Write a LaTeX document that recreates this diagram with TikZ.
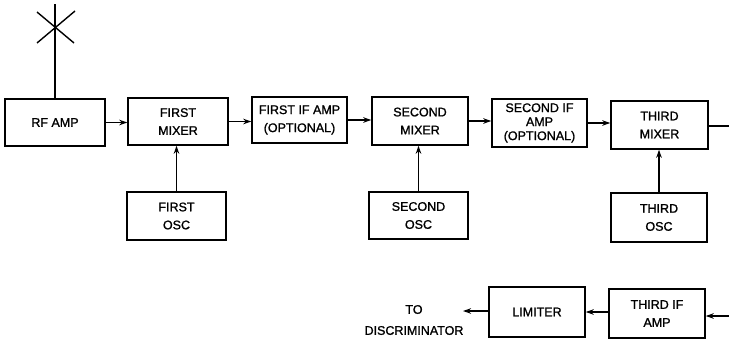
\documentclass[tikz,border=0pt]{standalone}
\usepackage{fontspec}
\setmainfont{Liberation Sans}[FakeBold=1]
\newfontfamily\medfont{Liberation Sans}[RawFeature={embolden=1.2}]
\usetikzlibrary{arrows.meta}
\begin{document}
\begin{tikzpicture}[x=1pt,y=-1pt,
  blk/.style={draw,line width=1.5pt,inner sep=0pt,align=center,
    font=\medfont\fontsize{12.5}{18}\selectfont},
  wire/.style={line width=1.4pt},
  arr/.style={line width=1.4pt,-{Stealth[length=8pt,width=5.5pt]}}]
\useasboundingbox (0,0) rectangle (729,340);
% top row
\node[blk,minimum width=100pt,minimum height=47pt] (rf) at (55,122.5) {RF AMP};
\node[blk,minimum width=100pt,minimum height=47pt] (m1) at (178,121.5) {FIRST\\MIXER};
\node[blk,minimum width=95pt,minimum height=46pt] (if1) at (299.5,120) {FIRST IF AMP\\(OPTIONAL)};
\node[blk,minimum width=96pt,minimum height=48pt] (m2) at (420,121) {SECOND\\MIXER};
\node[blk,minimum width=95pt,minimum height=48pt,font=\medfont\fontsize{12.5}{14}\selectfont] (if2) at (539.5,123) {SECOND IF\\AMP\\(OPTIONAL)};
\node[blk,minimum width=97pt,minimum height=48pt] (m3) at (659.5,125) {THIRD\\MIXER};
% oscillators
\node[blk,minimum width=99pt,minimum height=48pt] (o1) at (176.5,216) {FIRST\\OSC};
\node[blk,minimum width=99pt,minimum height=47pt] (o2) at (418.5,215.5) {SECOND\\OSC};
\node[blk,minimum width=96pt,minimum height=49pt] (o3) at (659,217.5) {THIRD\\OSC};
% bottom row
\node[blk,minimum width=96pt,minimum height=50pt] (lim) at (537,312) {LIMITER};
\node[blk,minimum width=96pt,minimum height=49pt] (if3) at (657,313.5) {THIRD IF\\AMP};
\node[align=center,inner sep=0pt,font=\medfont\fontsize{12.5}{21}\selectfont] (disc) at (414,320) {TO\\DISCRIMINATOR};
% antenna
\coordinate (top) at (55,4);
\coordinate (xa) at (37,12);
\coordinate (xb) at (74,43);
\coordinate (xc) at (75,11);
\coordinate (xd) at (37,43);
\draw[wire] (top) -- (rf.north);
\draw[wire] (xa) -- (xb);
\draw[wire] (xc) -- (xd);
% signal chain
\draw[arr] (rf.east) -- (rf.east -| m1.west);
\draw[arr] (m1.east) -- (m1.east -| if1.west);
\draw[arr] (if1.east) -- (if1.east -| m2.west);
\draw[arr] (m2.east) -- (m2.east -| if2.west);
\draw[arr] (if2.east) -- (if2.east -| m3.west);
\coordinate (c1) at (729.3,126);
\coordinate (c2) at (729.3,316);
\draw[wire] (m3.east |- c1) -- (c1) -- (c2);
\draw[arr] (c2) -- (c2 -| if3.east);
\draw[arr] (if3.west |- lim.east) -- (lim.east);
\coordinate (tip) at (463,311);
\draw[arr] (lim.west |- tip) -- (tip);
% oscillators to mixers
\draw[arr] (o1.north) -- (o1.north |- m1.south);
\draw[arr] (o2.north) -- (o2.north |- m2.south);
\draw[arr] (o3.north) -- (o3.north |- m3.south);
\end{tikzpicture}
\end{document}
